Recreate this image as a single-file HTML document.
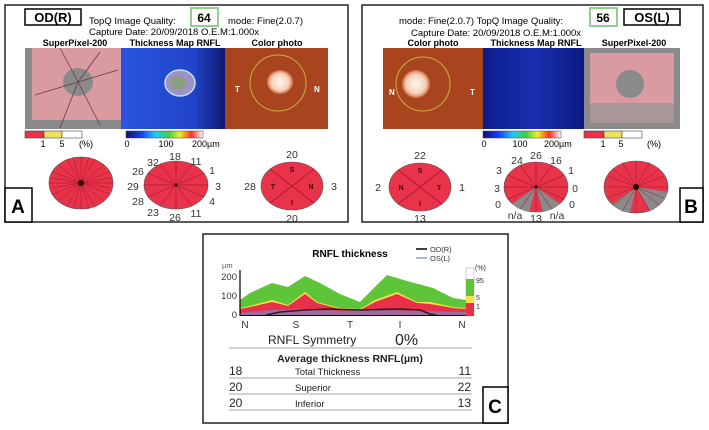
<!DOCTYPE html>
<html><head><meta charset="utf-8"><style>
body{margin:0;background:#fff;}
svg{display:block;font-family:"Liberation Sans",Arial,sans-serif;}
</style></head><body>
<svg width="709" height="430" viewBox="0 0 709 430" xmlns="http://www.w3.org/2000/svg">
<defs>
<linearGradient id="jet" x1="0" x2="1" y1="0" y2="0">
<stop offset="0" stop-color="#10106a"/><stop offset="0.2" stop-color="#1a3cff"/><stop offset="0.38" stop-color="#20c8ff"/><stop offset="0.55" stop-color="#40d040"/><stop offset="0.7" stop-color="#f0f020"/><stop offset="0.85" stop-color="#ff3020"/><stop offset="1" stop-color="#ffffff"/>
</linearGradient>
<radialGradient id="disc" cx="0.5" cy="0.5" r="0.5"><stop offset="0" stop-color="#fff8ee"/><stop offset="0.7" stop-color="#f6d0b8"/><stop offset="1" stop-color="#d06a40"/></radialGradient>
<linearGradient id="thA" x1="0" x2="1"><stop offset="0" stop-color="#2a55e0"/><stop offset="0.7" stop-color="#2244c8"/><stop offset="1" stop-color="#0e1a70"/></linearGradient>
<linearGradient id="thB" x1="0" x2="1"><stop offset="0" stop-color="#0c1c8a"/><stop offset="0.5" stop-color="#1a2fb0"/><stop offset="1" stop-color="#0c1a80"/></linearGradient>
</defs>

<!-- PANEL A -->
<rect x="5" y="5" width="343" height="217" fill="none" stroke="#222" stroke-width="1.5"/>
<rect x="25" y="9" width="56" height="16" fill="#fff" stroke="#000" stroke-width="1.5"/>
<text x="53" y="22" font-size="13" font-weight="bold" text-anchor="middle">OD(R)</text>
<text x="89" y="24" font-size="9.5">TopQ Image Quality:</text>
<rect x="191" y="8" width="27" height="18" fill="#fff" stroke="#8fcf8f" stroke-width="2"/>
<text x="204" y="22" font-size="12" font-weight="bold" text-anchor="middle">64</text>
<text x="228" y="24" font-size="9.5">mode: Fine(2.0.7)</text>
<text x="89" y="35" font-size="9.5">Capture Date: 20/09/2018  O.E.M:1.000x</text>
<text x="75" y="46" font-size="9" font-weight="bold" text-anchor="middle">SuperPixel-200</text>
<text x="175" y="46" font-size="9" font-weight="bold" text-anchor="middle">Thickness Map RNFL</text>
<text x="277" y="46" font-size="9" font-weight="bold" text-anchor="middle">Color photo</text>
<!-- superpixel A -->
<rect x="25" y="48" width="96" height="81" fill="#8a8a8a"/>
<rect x="32" y="48" width="89" height="72" fill="#d99aa2"/>
<ellipse cx="78" cy="82" rx="15" ry="14" fill="#8a8a8a"/>
<path d="M78 82 L60 48 M78 82 L100 52 M78 82 L118 70 M78 82 L60 128 M78 82 L100 125 M78 82 L35 95" stroke="#6a3a40" stroke-width="0.8" fill="none"/>
<!-- thickness A -->
<rect x="121" y="48" width="104" height="81" fill="url(#thA)"/>
<ellipse cx="180" cy="83" rx="15" ry="13" fill="#a090c8" stroke="#c0e0f0" stroke-width="1.5"/>
<ellipse cx="178" cy="83" rx="8" ry="7" fill="#8aa080"/>
<!-- color photo A -->
<rect x="225" y="48" width="103" height="81" fill="#a8451e"/>
<ellipse cx="278" cy="83" rx="28" ry="28" fill="none" stroke="#c8b040" stroke-width="1"/>
<ellipse cx="280" cy="82" rx="13" ry="12" fill="url(#disc)"/>
<text x="235" y="92" font-size="8" font-weight="bold" fill="#fff">T</text>
<text x="314" y="92" font-size="8" font-weight="bold" fill="#fff">N</text>
<!-- legends A -->
<rect x="25" y="131" width="19" height="7" fill="#e8344a" stroke="#444" stroke-width="0.6"/>
<rect x="44" y="131" width="18" height="7" fill="#f0e060" stroke="#444" stroke-width="0.6"/>
<rect x="62" y="131" width="20" height="7" fill="#fff" stroke="#444" stroke-width="0.6"/>
<text x="43" y="147" font-size="9" text-anchor="middle">1</text>
<text x="62" y="147" font-size="9" text-anchor="middle">5</text>
<text x="79" y="147" font-size="9">(%)</text>
<rect x="126" y="131" width="77" height="7" fill="url(#jet)" stroke="#444" stroke-width="0.5"/>
<text x="127" y="147" font-size="9" text-anchor="middle">0</text>
<text x="166" y="147" font-size="9" text-anchor="middle">100</text>
<text x="192" y="147" font-size="9">200µm</text>
<!-- circles A -->
<ellipse cx="81" cy="183" rx="32" ry="26" fill="#e8334a" stroke="#555" stroke-width="0.6"/>
<g stroke="#a01828" stroke-width="0.5">
<path d="M49 183H113M81 157V209M58 165L104 201M58 201L104 165M53 172L109 194M53 194L109 172M67 159L95 207M67 207L95 159M51 178L111 188M51 188L111 178M73 157L89 209M73 209L89 157"/>
</g>
<circle cx="81" cy="183" r="3" fill="#300"/>
<ellipse cx="176" cy="185" rx="32" ry="24" fill="#e8334a" stroke="#555" stroke-width="0.6"/>
<g stroke="#8a1020" stroke-width="0.5"><path d="M144 185H208M176 161V209M160 164L192 206M160 206L192 164M148 173L204 197M148 197L204 173"/></g>
<circle cx="176" cy="185" r="1.5" fill="#300"/>
<g font-size="10.5" fill="#333" text-anchor="middle">
<text x="153" y="166">32</text><text x="175" y="160">18</text><text x="196" y="165">11</text>
<text x="212" y="174">1</text><text x="218" y="190">3</text><text x="212" y="205">4</text>
<text x="196" y="217">11</text><text x="175" y="221">26</text><text x="153" y="216">23</text>
<text x="138" y="205">28</text><text x="133" y="190">29</text><text x="138" y="175">26</text>
</g>
<ellipse cx="292" cy="186" rx="31" ry="24" fill="#e8334a" stroke="#555" stroke-width="0.6"/>
<path d="M270 169L314 203M270 203L314 169" stroke="#8a1020" stroke-width="0.6"/>
<g font-size="7" font-weight="bold" fill="#400" text-anchor="middle">
<text x="292" y="172">S</text><text x="292" y="205">I</text><text x="273" y="189">T</text><text x="311" y="189">N</text></g>
<g font-size="10.5" fill="#333" text-anchor="middle">
<text x="292" y="158">20</text><text x="250" y="190">28</text><text x="334" y="190">3</text><text x="292" y="222">20</text></g>
<rect x="5" y="188" width="27" height="34" fill="#fff" stroke="#000" stroke-width="1.5"/>
<text x="18" y="213" font-size="19" font-weight="bold" text-anchor="middle">A</text>

<!-- PANEL B -->
<rect x="362" y="5" width="341" height="217" fill="none" stroke="#222" stroke-width="1.5"/>
<text x="399" y="24" font-size="9.5">mode: Fine(2.0.7) TopQ Image Quality:</text>
<rect x="590" y="8" width="27" height="18" fill="#fff" stroke="#8fcf8f" stroke-width="2"/>
<text x="603" y="22" font-size="12" font-weight="bold" text-anchor="middle">56</text>
<rect x="624" y="9" width="56" height="16" fill="#fff" stroke="#000" stroke-width="1.5"/>
<text x="652" y="22" font-size="13" font-weight="bold" text-anchor="middle">OS(L)</text>
<text x="411" y="36" font-size="9.5">Capture Date: 20/09/2018  O.E.M:1.000x</text>
<text x="433" y="46" font-size="9" font-weight="bold" text-anchor="middle">Color photo</text>
<text x="536" y="46" font-size="9" font-weight="bold" text-anchor="middle">Thickness Map RNFL</text>
<text x="634" y="46" font-size="9" font-weight="bold" text-anchor="middle">SuperPixel-200</text>
<rect x="383" y="48" width="100" height="81" fill="#a8451e"/>
<ellipse cx="423" cy="84" rx="27" ry="27" fill="none" stroke="#c8b040" stroke-width="1"/>
<ellipse cx="416" cy="84" rx="14" ry="14" fill="url(#disc)"/>
<text x="389" y="95" font-size="8" font-weight="bold" fill="#fff">N</text>
<text x="470" y="95" font-size="8" font-weight="bold" fill="#fff">T</text>
<rect x="483" y="48" width="101" height="81" fill="url(#thB)"/>
<rect x="584" y="48" width="96" height="81" fill="#8a8a8a"/>
<rect x="590" y="53" width="84" height="70" fill="#d99aa2"/>
<ellipse cx="630" cy="84" rx="14" ry="14" fill="#8a8a8a"/>
<rect x="590" y="103" width="84" height="20" fill="#a89698"/>
<rect x="483" y="131" width="78" height="7" fill="url(#jet)" stroke="#444" stroke-width="0.5"/>
<text x="484" y="147" font-size="9" text-anchor="middle">0</text>
<text x="520" y="147" font-size="9" text-anchor="middle">100</text>
<text x="544" y="147" font-size="9">200µm</text>
<rect x="584" y="131" width="20" height="7" fill="#e8344a" stroke="#444" stroke-width="0.6"/>
<rect x="604" y="131" width="18" height="7" fill="#f0e060" stroke="#444" stroke-width="0.6"/>
<rect x="622" y="131" width="20" height="7" fill="#fff" stroke="#444" stroke-width="0.6"/>
<text x="603" y="147" font-size="9" text-anchor="middle">1</text>
<text x="621" y="147" font-size="9" text-anchor="middle">5</text>
<text x="647" y="147" font-size="9">(%)</text>
<ellipse cx="420" cy="187" rx="31" ry="24" fill="#e8334a" stroke="#555" stroke-width="0.6"/>
<path d="M398 170L442 204M398 204L442 170" stroke="#8a1020" stroke-width="0.6"/>
<g font-size="7" font-weight="bold" fill="#400" text-anchor="middle">
<text x="420" y="173">S</text><text x="420" y="206">I</text><text x="401" y="190">N</text><text x="439" y="190">T</text></g>
<g font-size="10.5" fill="#333" text-anchor="middle">
<text x="420" y="159">22</text><text x="378" y="191">2</text><text x="462" y="191">1</text><text x="420" y="222">13</text></g>
<ellipse cx="536" cy="187" rx="32" ry="25" fill="#e8334a" stroke="#555" stroke-width="0.6"/>
<path d="M536 187L512 204A32 25 0 0 0 529 212Z" fill="#8a8a8a"/>
<path d="M536 187L543 212A32 25 0 0 0 560 204Z" fill="#8a8a8a"/>
<g stroke="#8a1020" stroke-width="0.5"><path d="M504 187H568M536 162V212M520 165L552 209M520 209L552 165M508 175L564 199M508 199L564 175"/></g>
<circle cx="536" cy="187" r="1.5" fill="#300"/>
<g font-size="10.5" fill="#333" text-anchor="middle">
<text x="517" y="164">24</text><text x="536" y="159">26</text><text x="556" y="164">16</text>
<text x="571" y="174">1</text><text x="575" y="192">0</text><text x="572" y="208">0</text>
<text x="557" y="219">n/a</text><text x="536" y="222">13</text><text x="515" y="219">n/a</text>
<text x="498" y="208">0</text><text x="497" y="192">3</text><text x="499" y="174">3</text>
</g>
<ellipse cx="636" cy="187" rx="32" ry="26" fill="#e8334a" stroke="#555" stroke-width="0.6"/>
<path d="M636 187L668 192A32 26 0 0 1 650 210Z" fill="#8a8a8a"/>
<path d="M636 187L630 213A32 26 0 0 1 612 204Z" fill="#8a8a8a"/>
<g stroke="#a01828" stroke-width="0.5"><path d="M604 187H668M636 161V213M613 169L659 205M613 205L659 169M608 176L664 198M608 198L664 176M622 162L650 212M622 212L650 162"/></g>
<circle cx="636" cy="187" r="3" fill="#300"/>
<rect x="680" y="188" width="23" height="34" fill="#fff" stroke="#000" stroke-width="1.5"/>
<text x="691" y="213" font-size="19" font-weight="bold" text-anchor="middle">B</text>

<!-- PANEL C -->
<rect x="203" y="234" width="305" height="189" fill="none" stroke="#222" stroke-width="1.5"/>
<text x="350" y="257" font-size="10" font-weight="bold" text-anchor="middle">RNFL thickness</text>
<line x1="416" y1="249" x2="427" y2="249" stroke="#000" stroke-width="1.5"/>
<text x="430" y="252" font-size="7.5" fill="#333">OD(R)</text>
<line x1="416" y1="258" x2="427" y2="258" stroke="#6a8ab0" stroke-width="1.2"/>
<text x="430" y="261" font-size="7.5" fill="#333">OS(L)</text>
<text x="222" y="268" font-size="7.5" fill="#555">µm</text>
<g font-size="9.5" fill="#333" text-anchor="end"><text x="237" y="280">200</text><text x="237" y="299">100</text><text x="237" y="318">0</text></g>
<!-- green -->
<path d="M240 300 L250 293 L272 283 L288 287 L305 276 L320 283 L340 294 L360 302 L387 275 L407 281 L433 288 L453 298 L466 300 L466 315 L240 315Z" fill="#5ec43a"/>
<path d="M240 308 L250 306 L272 300 L288 305 L305 292 L317 302 L340 308 L360 309 L375 300 L397 292 L417 302 L430 302 L453 307 L466 308 L466 315 L240 315Z" fill="#f4e24a"/>
<path d="M240 309 L250 307 L272 302 L288 306 L305 294 L317 303 L340 309 L360 310 L375 302 L397 294 L417 303 L430 304 L453 308 L466 309 L466 315 L240 315Z" fill="#e8304a"/>
<path d="M240 313 L270 310 L300 309 L340 311 L380 310 L420 311 L466 312 L466 315 L240 315Z" fill="#a06aa0"/>
<path d="M266 315 L280 312 L305 310 L330 309 L360 310 L400 309 L420 310 L430 314 L436 315" fill="none" stroke="#222" stroke-width="1.6"/>
<line x1="240" y1="270" x2="240" y2="316" stroke="#000" stroke-width="1.2"/>
<line x1="240" y1="315.5" x2="466" y2="315.5" stroke="#000" stroke-width="1"/>
<rect x="466" y="268" width="8" height="48" fill="#fff" stroke="#999" stroke-width="0.5"/>
<rect x="466" y="279" width="8" height="17" fill="#5ec43a"/>
<rect x="466" y="296" width="8" height="7" fill="#f4e24a"/>
<rect x="466" y="303" width="8" height="13" fill="#e8304a"/>
<g font-size="7" fill="#333"><text x="475" y="270">(%)</text><text x="476" y="283">95</text><text x="476" y="300">5</text><text x="476" y="309">1</text></g>
<g font-size="10" fill="#333" text-anchor="middle">
<text x="245" y="328">N</text><text x="296" y="328">S</text><text x="350" y="328">T</text><text x="400" y="328">I</text><text x="462" y="328">N</text></g>
<text x="268" y="344" font-size="12" fill="#222">RNFL Symmetry</text>
<text x="395" y="345" font-size="16" fill="#222">0%</text>
<line x1="229" y1="348" x2="472" y2="348" stroke="#888" stroke-width="0.8"/>
<text x="350" y="362" font-size="10.5" font-weight="bold" text-anchor="middle" fill="#222">Average thickness RNFL(µm)</text>
<g font-size="12" fill="#222">
<text x="229" y="375">18</text><text x="471" y="375" text-anchor="end">11</text>
<text x="229" y="391">20</text><text x="471" y="391" text-anchor="end">22</text>
<text x="229" y="407">20</text><text x="471" y="407" text-anchor="end">13</text>
</g>
<g font-size="9.5" fill="#222">
<text x="295" y="375">Total Thickness</text><text x="295" y="391">Superior</text><text x="295" y="407">Inferior</text></g>
<g stroke="#888" stroke-width="0.8"><line x1="229" y1="378" x2="472" y2="378"/><line x1="229" y1="394" x2="472" y2="394"/><line x1="229" y1="410" x2="472" y2="410"/></g>
<rect x="483" y="387" width="25" height="36" fill="#fff" stroke="#000" stroke-width="1.5"/>
<text x="495" y="413" font-size="19" font-weight="bold" text-anchor="middle">C</text>
</svg>
</body></html>
